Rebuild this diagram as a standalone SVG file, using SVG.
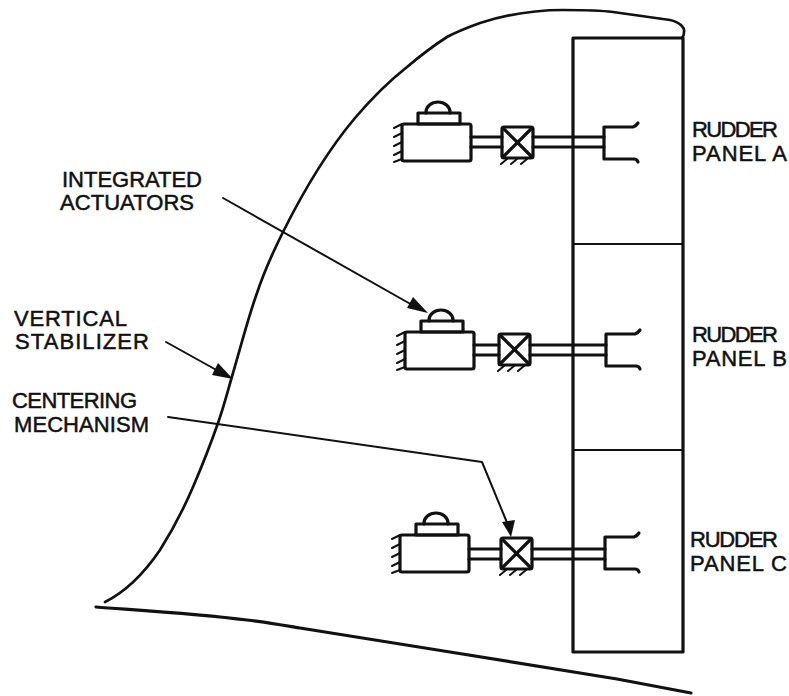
<svg xmlns="http://www.w3.org/2000/svg" width="789" height="696" viewBox="0 0 789 696">
<style>
.l{fill:none;stroke:#111;stroke-width:2;stroke-linecap:round;stroke-linejoin:round}
.h{fill:none;stroke:#111;stroke-width:3.2;stroke-linecap:round;stroke-linejoin:round}
.c{fill:none;stroke:#111;stroke-width:2.7;stroke-linecap:round;stroke-linejoin:round}
.a{fill:#111;stroke:none}
text{font-family:"Liberation Sans",Arial,sans-serif;font-size:22px;fill:#111;stroke:#111;stroke-width:.5}
</style>
<defs>
<g id="act">
<rect class="h" x="0" y="0" width="69" height="37" rx="2"/>
<rect class="h" x="16" y="-11" width="42" height="11"/>
<path class="h" d="M24-11V-12A12 10 0 0 1 48 -12V-11"/>
<path class="l" d="M0 0l-8 4M0 9l-8 4M0 18l-8 4M0 27l-8 4M0 35l-8 3"/>
</g>
<g id="cent">
<rect class="h" x="0" y="0" width="31" height="31" rx="2"/>
<path class="h" d="M1 1L30 30M30 1L1 30"/>
<path class="l" d="M5 32l-6 5M15 32l-6 5M25 32l-6 5"/>
</g>
<g id="clev">
<path class="h" d="M34 1q-2 3-5 4H0V37H30q3 0 4 3"/>
</g>
</defs>
<g id="stabilizer">
<path class="c" d="M105 602C125 592 145 572 160 550C172 531 184 508 193 487C202 466 210 446 218 423C224 406 228 390 233 373C241 346 248 318 257 293C264 272 273 252 283 232C303 192 328 150 355 118C372 98 388 82 407 67C420 56 433 46 447 37C458 31 469 27 480 23C505 15 535 10 563 10C580 10 597 10 613 12C635 15 655 18 670 20C680 22 685 28 684 32C684 35 683 37 682 38"/>
<path class="h" d="M96 607C150 611 200 614 247 620C265 622 282 625 300 628L450 652L617 679L691 693"/>
</g>
<g id="rudder-structure">
<rect class="h" x="573" y="38" width="110" height="614"/>
<path class="l" d="M573 244H683M573 450H683"/>
</g>
<g id="actuator-a"><use href="#act" x="402" y="124"/></g>
<g id="centering-a"><use href="#cent" x="502" y="127"/></g>
<g id="panel-a"><use href="#clev" x="604" y="122"/></g>
<g id="actuator-b"><use href="#act" x="405" y="332"/></g>
<g id="centering-b"><use href="#cent" x="499" y="334"/></g>
<g id="panel-b"><use href="#clev" x="606" y="329"/></g>
<g id="actuator-c"><use href="#act" x="400" y="535"/></g>
<g id="centering-c"><use href="#cent" x="501" y="538"/></g>
<g id="panel-c"><use href="#clev" x="605" y="532"/></g>
<g id="connectors">
<path class="h" d="M471 137H502M471 147H502M533 137H604M533 147H604"/>
<path class="h" d="M474 345H499M474 355H499M530 345H606M530 355H606"/>
<path class="h" d="M469 549H501M469 559H501M532 549H605M532 559H605"/>
<path class="l" d="M223 198L414 306"/>
<path class="a" d="M428 313L407 308L413 297Z"/>
<path class="l" d="M166 342L220 372"/>
<path class="a" d="M233 379L212 375L218 363Z"/>
<path class="l" d="M168 417L482 462L508 525"/>
<path class="a" d="M511 537L502 522L515 520Z"/>
</g>
<g id="labels">
<text x="62" y="187" textLength="140">INTEGRATED</text>
<text x="60" y="210" textLength="134">ACTUATORS</text>
<text x="14" y="326" textLength="113">VERTICAL</text>
<text x="15" y="349" textLength="134">STABILIZER</text>
<text x="12" y="408" textLength="125">CENTERING</text>
<text x="14" y="432" textLength="135">MECHANISM</text>
<text x="692" y="137" textLength="86">RUDDER</text>
<text x="692" y="161" textLength="95">PANEL A</text>
<text x="692" y="342" textLength="86">RUDDER</text>
<text x="692" y="366" textLength="95">PANEL B</text>
<text x="690" y="547" textLength="88">RUDDER</text>
<text x="690" y="571" textLength="97">PANEL C</text>
</g>
</svg>
